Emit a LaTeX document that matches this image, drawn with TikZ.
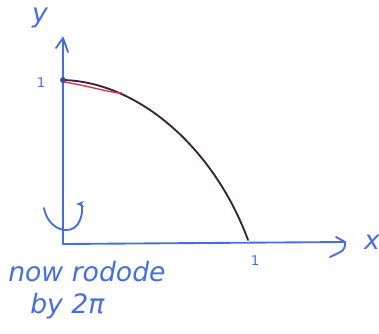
\documentclass[tikz,border=0pt]{standalone}
\usepackage{fontspec}
\setmainfont{DejaVu Sans}
\usetikzlibrary{arrows.meta}
\definecolor{pen}{RGB}{70,110,225}
\definecolor{ink}{RGB}{55,35,60}
\definecolor{redpen}{RGB}{215,50,70}
\tikzset{
  axis/.style={pen, line width=1.4pt, line cap=round, line join=round},
  lbl/.style={pen, font=\itshape\fontsize{20}{22}\selectfont, inner sep=0pt},
  small/.style={pen, font=\fontsize{10}{12}\selectfont, inner sep=0pt},
}
\begin{document}
\begin{tikzpicture}[x=0.75pt,y=-0.75pt]
\useasboundingbox (0,0) rectangle (379,333);
% axes
\coordinate (O) at (63,244);
\coordinate (ytop) at (63,38);
\coordinate (xend) at (345,242);
\draw[axis] (O) -- (ytop);
\draw[axis] (O) -- (xend);
% arrow heads (hand drawn)
\draw[axis] (56,48) -- (ytop) -- (68,52);
\draw[axis] (336,237) -- (xend) .. controls (345,250) .. (330,257);
% curve
\coordinate (P) at (63,80);
\coordinate (Q) at (248,240);
\draw[ink, line width=1.4pt, line cap=round] (P) .. controls (140,82) and (215,150) .. (Q);
\draw[redpen, line width=1pt] (64,82) .. controls (90,86) and (110,93) .. (122,93);
\fill[pen!70!black] (P) circle (2.2pt);
% rotation arrow
\draw[axis, -{Stealth[length=6pt]}] (44,208) .. controls (48,230) and (70,236) .. (78,224) .. controls (84,214) and (82,204) .. (76,204);
% labels
\node[lbl] (ylab) at (40,18) {y};
\node[small] (one1) at (41,83) {1};
\node[small] (one2) at (255,261) {1};
\node[lbl] (xlab) at (372,242) {x};
\node[lbl, anchor=west] (t1) at (8,272) {now rodode};
\node[lbl, anchor=west] (t2) at (30,306) {by 2π};
\end{tikzpicture}
\end{document}
